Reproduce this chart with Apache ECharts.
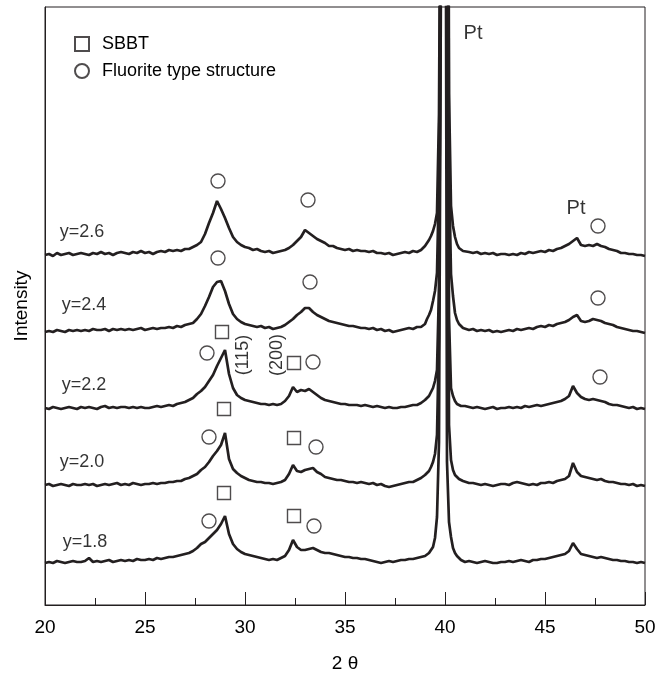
<!DOCTYPE html>
<html>
<head>
<meta charset="utf-8">
<script src="https://cdn.jsdelivr.net/npm/echarts@6/dist/echarts.min.js"></script>
<style>
html,body{margin:0;padding:0;background:#fff;}
#c{width:657px;height:673px;}
</style>
</head>
<body>
<div id="c"></div>
<script>
// 2θ sampling grid (degrees)
const twoTheta = [
 20.0,20.2,20.4,20.6,20.8,21.0,21.2,21.4,21.6,21.8,
 22.0,22.2,22.4,22.6,22.8,23.0,23.2,23.4,23.6,23.8,
 24.0,24.2,24.4,24.6,24.8,25.0,25.2,25.4,25.6,25.8,
 26.0,26.2,26.4,26.6,26.8,27.0,27.2,27.4,27.6,27.8,
 28.0,28.2,28.4,28.6,28.8,29.0,29.2,29.4,29.6,29.8,
 30.0,30.2,30.4,30.6,30.8,31.0,31.2,31.4,31.6,31.8,
 32.0,32.2,32.4,32.6,32.8,33.0,33.2,33.4,33.6,33.8,
 34.0,34.2,34.4,34.6,34.8,35.0,35.2,35.4,35.6,35.8,
 36.0,36.2,36.4,36.6,36.8,37.0,37.2,37.4,37.6,37.8,
 38.0,38.2,38.4,38.6,38.8,39.0,
 39.1,39.2,39.3,39.4,39.5,39.6,39.7,39.8,39.9,40.0,40.1,40.2,40.3,40.4,40.5,40.6,40.7,40.8,40.9,
 41.0,41.2,41.4,41.6,41.8,42.0,42.2,42.4,42.6,42.8,
 43.0,43.2,43.4,43.6,43.8,44.0,44.2,44.4,44.6,44.8,
 45.0,45.2,45.4,45.6,45.8,46.0,46.2,46.4,46.6,46.8,
 47.0,47.2,47.4,47.6,47.8,48.0,48.2,48.4,48.6,48.8,
 49.0,49.2,49.4,49.6,49.8,50.0
];

// sample labels and vertical stacking offsets (arbitrary intensity units)
const sampleNames = ['y=1.8','y=2.0','y=2.2','y=2.4','y=2.6'];
const stackOffsets = [43, 120, 197, 276, 351];

// relative intensities (a.u.) for each sample
const int18 = [
 -1,0,-1,1,0,-1,0,1,0,0,
 1,4,0,1,0,1,2,0,1,2,
 1,2,1,3,2,2,3,2,4,3,
 4,5,5,6,7,8,9,11,14,18,
 20,24,28,32,38,46,28,18,13,10,
 8,7,6,5,4,3,2,3,2,4,
 6,12,22,15,12,12,13,14,12,10,
 9,9,8,7,6,5,5,4,4,3,
 3,2,1,0,-1,0,1,0,1,2,
 2,3,3,4,5,6,
 7,9,12,15,24,45,120,600,2000,2000,100,40,25,14,9,6,4,2,1,
 0,1,0,-1,0,1,0,-1,-1,0,
 0,1,0,1,2,1,0,2,2,3,
 3,4,5,6,7,8,11,19,13,8,
 7,6,5,4,5,4,3,2,2,1,
 1,0,0,-1,0,-1
];
const int20 = [
 0,1,-1,0,1,0,-1,1,0,0,
 1,0,1,-1,0,1,0,1,2,0,
 1,0,2,1,0,1,1,2,1,2,
 2,3,3,4,4,6,7,9,11,15,
 18,23,29,34,40,52,26,16,12,9,
 7,5,4,3,3,2,2,1,2,3,
 5,11,20,14,13,15,16,17,13,11,
 8,7,6,5,5,4,3,3,2,3,
 2,1,2,0,1,-1,-2,-1,0,1,
 2,3,3,5,7,10,
 12,14,18,23,31,50,150,600,2000,2000,800,60,25,15,10,8,6,5,4,
 3,2,2,1,0,1,0,-1,0,1,
 1,0,2,3,2,1,0,1,0,2,
 2,3,2,4,5,6,9,22,13,9,
 8,7,6,5,6,4,3,3,2,1,
 1,0,1,-1,0,-1
];
const int22 = [
 0,-1,1,0,-1,0,1,0,-1,1,
 0,1,0,-1,1,2,0,1,0,1,
 1,0,1,0,1,0,0,1,2,1,
 2,3,2,4,5,6,8,10,14,17,
 21,27,33,42,50,58,34,20,13,10,
 8,7,6,5,4,4,3,4,3,4,
 7,12,21,16,18,17,19,16,13,10,
 8,7,6,5,4,4,3,3,3,2,
 3,2,1,2,1,0,1,0,0,1,
 1,2,3,3,5,8,
 10,12,16,20,27,38,120,500,2000,2000,900,90,20,12,7,4,3,2,2,
 2,1,0,1,0,-1,0,1,-1,0,
 0,1,0,1,0,2,1,2,3,2,
 3,4,5,6,7,9,12,22,15,11,
 9,8,9,8,7,6,4,3,3,2,
 1,0,1,-1,0,-1
];
const int24 = [
 -3,-2,-3,-1,-2,-3,-1,-2,-1,-2,
 -1,-2,0,-1,-1,0,-2,0,-1,0,
 -1,0,-1,0,1,-1,0,1,0,1,
 1,2,1,3,2,4,5,6,10,15,
 23,32,42,47,48,38,25,15,10,7,
 5,4,3,2,3,1,2,0,1,2,
 4,7,10,14,17,21,21,17,14,12,
 10,8,7,6,5,4,3,3,2,1,
 1,0,1,-1,0,-2,-1,-3,-2,-1,
 0,1,0,2,2,5,
 10,14,19,28,38,56,150,500,2000,2000,1000,160,55,33,16,9,5,3,1,
 0,-1,0,-2,-1,-2,-1,-3,-2,-3,
 -2,-1,-2,0,-1,0,1,0,2,3,
 2,4,3,5,6,7,9,12,14,8,
 7,8,10,9,8,6,5,4,2,1,
 0,-1,-2,-2,-3,-4
];
const int26 = [
 -1,0,-2,1,-1,0,1,-1,0,1,
 0,-1,1,0,2,0,1,-1,1,2,
 1,0,2,1,3,1,2,0,2,3,
 2,4,3,4,3,5,5,7,9,12,
 20,31,41,53,45,36,26,17,12,9,
 7,6,4,5,3,2,3,1,2,3,
 4,6,9,13,17,24,21,18,15,13,
 11,8,8,6,5,4,5,3,4,3,
 3,2,3,1,1,0,1,-1,0,1,
 2,1,3,2,4,8,
 11,14,18,23,30,41,140,500,2000,2000,1000,160,48,28,17,10,6,4,3,
 3,2,1,2,0,1,0,1,-1,0,
 0,-1,0,-1,1,0,2,1,2,3,
 2,4,3,5,6,8,10,13,16,9,
 8,9,8,10,8,7,5,4,3,1,
 1,0,0,-1,-1,-2
];
const intensities = [int18, int20, int22, int24, int26];

// phase markers [2θ, intensity]
const sbbtMarks = [
 [28.85,273],[32.45,242],
 [28.95,196],[32.45,167],
 [28.95,112],[32.45,89]
];
const fluoriteMarks = [
 [28.65,424],[33.15,405],[47.65,379],
 [28.65,347],[33.25,323],[47.65,307],
 [28.1,252],[33.4,243],[47.75,228],
 [28.2,168],[33.55,158],
 [28.2,84],[33.45,79]
];

// text annotations [2θ, intensity]
const sampleLabelPos = [[22.0,63],[21.85,143],[21.95,220],[21.95,300],[21.85,373]];
const ptLabels = [['Pt',41.4,572],['Pt',46.55,397]];
const hklLabels = [['(115)',29.9,250],['(200)',31.6,250]];
const xTicks = [20,25,30,35,40,45,50];

const FONT = '"Liberation Sans", Arial, Helvetica, sans-serif';
const INK = '#231f20';
const TXT = '#000000';
const plainLabel = { show: true, position: 'inside', formatter: '{b}', color: TXT, fontFamily: FONT, textBorderWidth: 0, textBorderColor: 'transparent', textShadowBlur: 0 };

const series = [];
intensities.forEach((arr, i) => {
  series.push({
    type: 'line',
    name: sampleNames[i],
    data: twoTheta.map((x, j) => [x, arr[j] + stackOffsets[i]]),
    showSymbol: false,
    symbol: 'none',
    clip: true,
    lineStyle: { color: INK, width: 2.7 },
    z: 2
  });
});
series.push({
  type: 'scatter', name: 'SBBT', data: sbbtMarks,
  symbol: 'rect', symbolSize: 13,
  itemStyle: { color: '#ffffff', borderColor: INK, borderWidth: 1.4 },
  z: 5
});
series.push({
  type: 'scatter', name: 'Fluorite type structure', data: fluoriteMarks,
  symbol: 'circle', symbolSize: 14,
  itemStyle: { color: '#ffffff', borderColor: INK, borderWidth: 1.4 },
  z: 5
});
series.push({
  type: 'scatter', name: 'sampleLabels', silent: true,
  symbolSize: 0,
  data: sampleLabelPos.map((p, i) => ({ name: sampleNames[i], value: p })),
  label: Object.assign({}, plainLabel, { fontSize: 18 }),
  z: 6
});
series.push({
  type: 'scatter', name: 'ptLabels', silent: true,
  symbolSize: 0,
  data: ptLabels.map(p => ({ name: p[0], value: [p[1], p[2]] })),
  label: Object.assign({}, plainLabel, { fontSize: 20 }),
  z: 6
});
series.push({
  type: 'scatter', name: 'hklLabels', silent: true,
  symbolSize: 0,
  data: hklLabels.map(p => ({ name: p[0], value: [p[1], p[2]] })),
  label: Object.assign({}, plainLabel, { fontSize: 18, rotate: 90 }),
  z: 6
});

const chart = echarts.init(document.getElementById('c'), null, { renderer: 'canvas' });
chart.setOption({
  animation: false,
  backgroundColor: '#ffffff',
  grid: { left: 45, right: 12, top: 7, bottom: 68, containLabel: false, outerBoundsMode: 'none', show: true, borderColor: INK, borderWidth: 1, backgroundColor: 'transparent' },
  legend: {
    data: ['SBBT', 'Fluorite type structure'],
    orient: 'vertical', left: 74, top: 35, padding: 0,
    itemWidth: 14, itemHeight: 14, itemGap: 9,
    textStyle: { fontSize: 18, color: TXT, fontFamily: FONT, padding: [0, 0, 0, 8] },
    selectedMode: false
  },
  xAxis: {
    type: 'value', min: xTicks[0], max: xTicks[xTicks.length - 1], interval: 5,
    axisLine: { show: true, onZero: false, lineStyle: { color: INK, width: 1 } },
    axisTick: { show: true, inside: true, length: 13, lineStyle: { color: INK, width: 1 } },
    minorTick: { show: true, splitNumber: 2, length: 7, lineStyle: { color: INK, width: 1 } },
    axisLabel: { fontSize: 19, color: TXT, margin: 13, fontFamily: FONT },
    splitLine: { show: false },
    name: '2 θ', nameLocation: 'middle', nameGap: 49,
    nameTextStyle: { fontSize: 19, color: TXT, fontFamily: FONT }
  },
  yAxis: {
    type: 'value', min: 0, max: 598,
    axisLine: { show: true, lineStyle: { color: INK, width: 1 } },
    axisTick: { show: false }, axisLabel: { show: false }, splitLine: { show: false },
    name: 'Intensity', nameLocation: 'middle', nameGap: 14, nameRotate: 90,
    nameTextStyle: { fontSize: 19, color: TXT, fontFamily: FONT }
  },
  series: series
});
</script>
</body>
</html>
